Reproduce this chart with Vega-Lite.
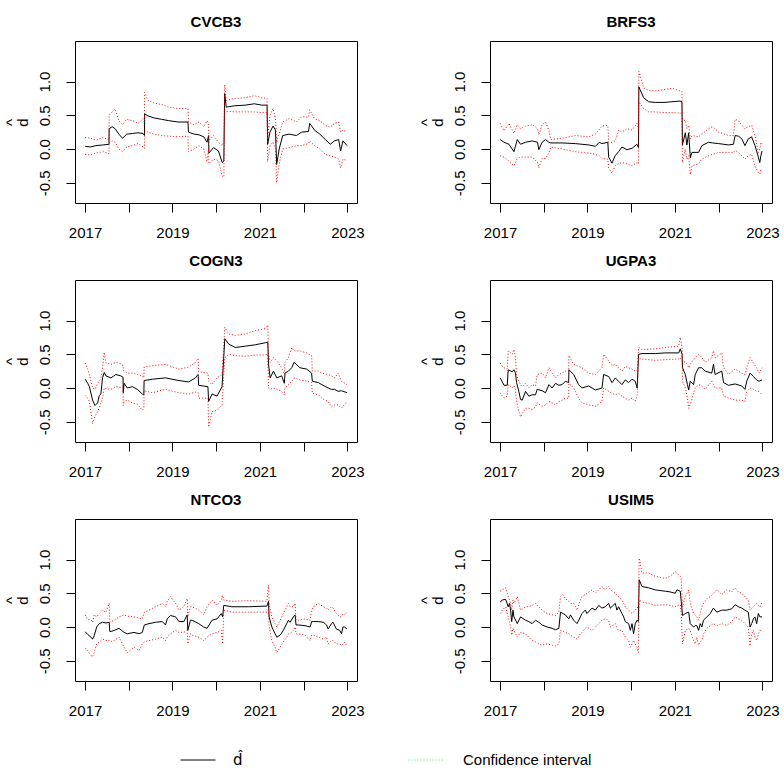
{
  "$schema": "https://vega.github.io/schema/vega-lite/v6.json",
  "padding": {"left": 3, "top": 14, "right": 0, "bottom": 0},
  "background": "white",
  "datasets": {
    "CVCB3": [
      {"t":"2017-01-02","d":0.04,"lo":-0.08,"hi":0.17},
      {"t":"2017-02-15","d":0.03,"lo":-0.09,"hi":0.16},
      {"t":"2017-04-01","d":0.05,"lo":-0.06,"hi":0.13},
      {"t":"2017-06-01","d":0.06,"lo":-0.04,"hi":0.17},
      {"t":"2017-07-20","d":0.07,"lo":-0.07,"hi":0.13},
      {"t":"2017-07-21","d":0.30,"lo":0.10,"hi":0.50},
      {"t":"2017-08-15","d":0.33,"lo":0.12,"hi":0.55},
      {"t":"2017-09-10","d":0.30,"lo":0.10,"hi":0.59},
      {"t":"2017-10-10","d":0.22,"lo":0.00,"hi":0.42},
      {"t":"2017-11-10","d":0.16,"lo":-0.04,"hi":0.36},
      {"t":"2017-12-15","d":0.22,"lo":0.03,"hi":0.44},
      {"t":"2018-02-01","d":0.23,"lo":0.05,"hi":0.42},
      {"t":"2018-03-20","d":0.24,"lo":0.08,"hi":0.38},
      {"t":"2018-05-01","d":0.23,"lo":0.03,"hi":0.45},
      {"t":"2018-05-12","d":0.20,"lo":0.01,"hi":0.40},
      {"t":"2018-05-14","d":0.52,"lo":0.28,"hi":0.84},
      {"t":"2018-06-10","d":0.49,"lo":0.25,"hi":0.72},
      {"t":"2018-08-01","d":0.46,"lo":0.22,"hi":0.68},
      {"t":"2018-10-01","d":0.44,"lo":0.20,"hi":0.66},
      {"t":"2018-12-01","d":0.42,"lo":0.19,"hi":0.62},
      {"t":"2019-02-15","d":0.40,"lo":0.18,"hi":0.60},
      {"t":"2019-05-10","d":0.40,"lo":0.19,"hi":0.60},
      {"t":"2019-05-15","d":0.25,"lo":-0.04,"hi":0.40},
      {"t":"2019-07-01","d":0.22,"lo":0.00,"hi":0.36},
      {"t":"2019-08-10","d":0.21,"lo":0.05,"hi":0.40},
      {"t":"2019-09-20","d":0.18,"lo":0.00,"hi":0.33},
      {"t":"2019-10-16","d":0.10,"lo":-0.19,"hi":0.42},
      {"t":"2019-10-30","d":0.20,"lo":0.02,"hi":0.35},
      {"t":"2019-11-01","d":-0.06,"lo":-0.22,"hi":0.12},
      {"t":"2019-12-10","d":0.02,"lo":-0.15,"hi":0.20},
      {"t":"2020-01-20","d":-0.03,"lo":-0.17,"hi":0.10},
      {"t":"2020-02-20","d":-0.20,"lo":-0.40,"hi":0.05},
      {"t":"2020-03-05","d":-0.18,"lo":-0.42,"hi":0.10},
      {"t":"2020-03-12","d":0.82,"lo":0.58,"hi":0.95},
      {"t":"2020-03-25","d":0.62,"lo":0.56,"hi":0.72},
      {"t":"2020-06-01","d":0.64,"lo":0.55,"hi":0.75},
      {"t":"2020-09-01","d":0.65,"lo":0.55,"hi":0.76},
      {"t":"2020-11-15","d":0.67,"lo":0.55,"hi":0.79},
      {"t":"2021-01-15","d":0.65,"lo":0.54,"hi":0.76},
      {"t":"2021-03-01","d":0.65,"lo":0.54,"hi":0.75},
      {"t":"2021-03-06","d":0.07,"lo":-0.19,"hi":0.16},
      {"t":"2021-03-25","d":0.25,"lo":0.05,"hi":0.50},
      {"t":"2021-04-20","d":0.34,"lo":0.10,"hi":0.60},
      {"t":"2021-05-10","d":0.28,"lo":0.00,"hi":0.45},
      {"t":"2021-05-20","d":-0.23,"lo":-0.50,"hi":0.10},
      {"t":"2021-06-10","d":0.00,"lo":-0.22,"hi":0.22},
      {"t":"2021-07-10","d":0.20,"lo":0.00,"hi":0.40},
      {"t":"2021-09-01","d":0.22,"lo":0.02,"hi":0.45},
      {"t":"2021-11-01","d":0.20,"lo":0.05,"hi":0.40},
      {"t":"2021-12-15","d":0.25,"lo":0.05,"hi":0.48},
      {"t":"2022-02-10","d":0.26,"lo":0.08,"hi":0.47},
      {"t":"2022-02-20","d":0.38,"lo":0.12,"hi":0.58},
      {"t":"2022-04-01","d":0.28,"lo":0.05,"hi":0.45},
      {"t":"2022-05-15","d":0.22,"lo":0.00,"hi":0.42},
      {"t":"2022-07-01","d":0.14,"lo":-0.08,"hi":0.35},
      {"t":"2022-08-10","d":0.07,"lo":-0.10,"hi":0.32},
      {"t":"2022-09-15","d":0.12,"lo":-0.12,"hi":0.38},
      {"t":"2022-10-20","d":0.14,"lo":-0.15,"hi":0.40},
      {"t":"2022-11-05","d":-0.03,"lo":-0.28,"hi":0.25},
      {"t":"2022-11-25","d":0.12,"lo":-0.15,"hi":0.28},
      {"t":"2022-12-29","d":0.05,"lo":-0.17,"hi":0.25}
    ],
    "BRFS3": [
      {"t":"2017-01-02","d":0.14,"lo":-0.10,"hi":0.38},
      {"t":"2017-02-03","d":0.10,"lo":-0.12,"hi":0.27},
      {"t":"2017-03-16","d":0.07,"lo":-0.18,"hi":0.38},
      {"t":"2017-04-27","d":-0.04,"lo":-0.25,"hi":0.23},
      {"t":"2017-05-25","d":0.14,"lo":-0.14,"hi":0.36},
      {"t":"2017-06-21","d":0.07,"lo":-0.12,"hi":0.30},
      {"t":"2017-08-02","d":0.10,"lo":-0.12,"hi":0.34},
      {"t":"2017-09-27","d":0.12,"lo":-0.12,"hi":0.36},
      {"t":"2017-11-10","d":0.10,"lo":-0.20,"hi":0.30},
      {"t":"2017-11-21","d":-0.01,"lo":-0.28,"hi":0.21},
      {"t":"2017-12-18","d":0.10,"lo":-0.14,"hi":0.36},
      {"t":"2018-01-16","d":0.14,"lo":-0.14,"hi":0.40},
      {"t":"2018-02-13","d":0.10,"lo":-0.06,"hi":0.27},
      {"t":"2018-03-01","d":0.09,"lo":0.03,"hi":0.14},
      {"t":"2018-06-03","d":0.09,"lo":0.00,"hi":0.16},
      {"t":"2018-09-22","d":0.08,"lo":-0.04,"hi":0.20},
      {"t":"2019-01-11","d":0.06,"lo":-0.06,"hi":0.18},
      {"t":"2019-03-08","d":0.04,"lo":-0.08,"hi":0.22},
      {"t":"2019-04-10","d":0.10,"lo":-0.10,"hi":0.29},
      {"t":"2019-05-02","d":0.08,"lo":-0.14,"hi":0.34},
      {"t":"2019-06-20","d":0.10,"lo":-0.15,"hi":0.35},
      {"t":"2019-06-27","d":-0.12,"lo":-0.28,"hi":0.10},
      {"t":"2019-07-25","d":-0.21,"lo":-0.36,"hi":0.10},
      {"t":"2019-08-20","d":-0.10,"lo":-0.25,"hi":0.12},
      {"t":"2019-09-18","d":-0.04,"lo":-0.22,"hi":0.28},
      {"t":"2019-10-16","d":0.03,"lo":-0.20,"hi":0.25},
      {"t":"2019-11-27","d":-0.01,"lo":-0.22,"hi":0.30},
      {"t":"2020-01-08","d":0.01,"lo":-0.25,"hi":0.28},
      {"t":"2020-02-18","d":0.07,"lo":-0.20,"hi":0.38},
      {"t":"2020-03-02","d":0.02,"lo":-0.22,"hi":0.30},
      {"t":"2020-03-05","d":0.92,"lo":0.70,"hi":1.15},
      {"t":"2020-04-14","d":0.76,"lo":0.60,"hi":0.90},
      {"t":"2020-05-26","d":0.70,"lo":0.55,"hi":0.87},
      {"t":"2020-07-20","d":0.69,"lo":0.55,"hi":0.86},
      {"t":"2020-10-01","d":0.69,"lo":0.54,"hi":0.88},
      {"t":"2020-12-06","d":0.70,"lo":0.54,"hi":0.90},
      {"t":"2021-02-13","d":0.71,"lo":0.53,"hi":0.86},
      {"t":"2021-02-28","d":0.70,"lo":0.53,"hi":0.85},
      {"t":"2021-03-04","d":0.06,"lo":-0.20,"hi":0.40},
      {"t":"2021-03-28","d":0.24,"lo":0.00,"hi":0.43},
      {"t":"2021-04-10","d":0.06,"lo":-0.15,"hi":0.30},
      {"t":"2021-04-25","d":0.24,"lo":-0.10,"hi":0.35},
      {"t":"2021-05-09","d":-0.13,"lo":-0.38,"hi":0.15},
      {"t":"2021-05-23","d":-0.05,"lo":-0.25,"hi":0.20},
      {"t":"2021-07-17","d":-0.05,"lo":-0.22,"hi":0.18},
      {"t":"2021-08-13","d":0.05,"lo":-0.15,"hi":0.22},
      {"t":"2021-10-08","d":0.10,"lo":-0.10,"hi":0.30},
      {"t":"2021-11-10","d":0.09,"lo":-0.08,"hi":0.33},
      {"t":"2022-01-01","d":0.08,"lo":-0.05,"hi":0.25},
      {"t":"2022-03-24","d":0.06,"lo":-0.05,"hi":0.20},
      {"t":"2022-05-04","d":0.07,"lo":-0.05,"hi":0.20},
      {"t":"2022-05-18","d":0.20,"lo":-0.02,"hi":0.44},
      {"t":"2022-06-15","d":0.19,"lo":-0.05,"hi":0.42},
      {"t":"2022-07-13","d":0.15,"lo":-0.10,"hi":0.35},
      {"t":"2022-08-08","d":0.05,"lo":-0.15,"hi":0.30},
      {"t":"2022-09-05","d":0.15,"lo":-0.10,"hi":0.33},
      {"t":"2022-10-03","d":0.18,"lo":-0.08,"hi":0.35},
      {"t":"2022-10-31","d":0.05,"lo":-0.25,"hi":0.20},
      {"t":"2022-11-28","d":-0.12,"lo":-0.35,"hi":-0.05},
      {"t":"2022-12-10","d":-0.20,"lo":-0.37,"hi":0.00},
      {"t":"2022-12-19","d":-0.10,"lo":-0.30,"hi":0.10},
      {"t":"2022-12-29","d":-0.03,"lo":-0.30,"hi":0.08}
    ],
    "COGN3": [
      {"t":"2017-01-02","d":0.13,"lo":-0.11,"hi":0.37},
      {"t":"2017-01-23","d":0.07,"lo":-0.15,"hi":0.28},
      {"t":"2017-02-06","d":0.02,"lo":-0.20,"hi":0.20},
      {"t":"2017-03-05","d":-0.18,"lo":-0.53,"hi":0.00},
      {"t":"2017-03-25","d":-0.26,"lo":-0.42,"hi":-0.02},
      {"t":"2017-04-16","d":-0.22,"lo":-0.35,"hi":0.07},
      {"t":"2017-04-30","d":-0.11,"lo":-0.29,"hi":0.10},
      {"t":"2017-05-13","d":-0.09,"lo":-0.22,"hi":0.15},
      {"t":"2017-05-27","d":0.15,"lo":-0.15,"hi":0.30},
      {"t":"2017-06-10","d":0.23,"lo":0.00,"hi":0.53},
      {"t":"2017-06-24","d":0.18,"lo":-0.01,"hi":0.37},
      {"t":"2017-08-05","d":0.15,"lo":-0.02,"hi":0.35},
      {"t":"2017-09-15","d":0.20,"lo":0.02,"hi":0.38},
      {"t":"2017-10-26","d":0.18,"lo":0.01,"hi":0.36},
      {"t":"2017-11-14","d":0.16,"lo":0.00,"hi":0.33},
      {"t":"2017-11-16","d":-0.07,"lo":-0.26,"hi":0.26},
      {"t":"2017-11-23","d":0.07,"lo":-0.20,"hi":0.25},
      {"t":"2017-12-20","d":0.00,"lo":-0.18,"hi":0.22},
      {"t":"2018-01-31","d":0.02,"lo":-0.22,"hi":0.22},
      {"t":"2018-03-14","d":-0.02,"lo":-0.24,"hi":0.20},
      {"t":"2018-04-24","d":-0.09,"lo":-0.33,"hi":0.18},
      {"t":"2018-05-07","d":-0.10,"lo":-0.30,"hi":0.15},
      {"t":"2018-05-09","d":0.11,"lo":-0.04,"hi":0.31},
      {"t":"2018-07-16","d":0.13,"lo":-0.07,"hi":0.33},
      {"t":"2018-11-03","d":0.15,"lo":-0.02,"hi":0.35},
      {"t":"2019-02-24","d":0.11,"lo":-0.07,"hi":0.28},
      {"t":"2019-05-17","d":0.09,"lo":-0.09,"hi":0.31},
      {"t":"2019-07-11","d":0.15,"lo":-0.06,"hi":0.38},
      {"t":"2019-08-03","d":0.20,"lo":-0.07,"hi":0.44},
      {"t":"2019-08-08","d":0.04,"lo":-0.15,"hi":0.24},
      {"t":"2019-10-24","d":0.02,"lo":-0.15,"hi":0.22},
      {"t":"2019-10-30","d":-0.20,"lo":-0.58,"hi":0.10},
      {"t":"2019-11-27","d":-0.09,"lo":-0.35,"hi":0.05},
      {"t":"2020-01-08","d":-0.12,"lo":-0.33,"hi":0.15},
      {"t":"2020-02-19","d":0.02,"lo":-0.25,"hi":0.20},
      {"t":"2020-03-13","d":0.73,"lo":0.45,"hi":0.90},
      {"t":"2020-04-15","d":0.65,"lo":0.50,"hi":0.80},
      {"t":"2020-06-09","d":0.60,"lo":0.48,"hi":0.78},
      {"t":"2020-08-31","d":0.62,"lo":0.47,"hi":0.80},
      {"t":"2020-11-22","d":0.64,"lo":0.49,"hi":0.85},
      {"t":"2021-02-14","d":0.67,"lo":0.49,"hi":0.88},
      {"t":"2021-03-07","d":0.68,"lo":0.50,"hi":0.93},
      {"t":"2021-03-13","d":0.35,"lo":0.00,"hi":0.50},
      {"t":"2021-03-27","d":0.15,"lo":-0.02,"hi":0.38},
      {"t":"2021-04-23","d":0.25,"lo":0.00,"hi":0.45},
      {"t":"2021-05-21","d":0.15,"lo":-0.02,"hi":0.40},
      {"t":"2021-07-01","d":0.18,"lo":-0.05,"hi":0.30},
      {"t":"2021-07-23","d":0.07,"lo":-0.10,"hi":0.20},
      {"t":"2021-07-29","d":0.22,"lo":0.00,"hi":0.38},
      {"t":"2021-08-26","d":0.25,"lo":0.05,"hi":0.45},
      {"t":"2021-09-23","d":0.30,"lo":0.10,"hi":0.60},
      {"t":"2021-10-12","d":0.38,"lo":0.15,"hi":0.55},
      {"t":"2021-12-01","d":0.30,"lo":0.12,"hi":0.55},
      {"t":"2022-01-26","d":0.28,"lo":0.10,"hi":0.52},
      {"t":"2022-03-08","d":0.22,"lo":0.08,"hi":0.48},
      {"t":"2022-03-14","d":0.10,"lo":-0.08,"hi":0.25},
      {"t":"2022-05-03","d":0.08,"lo":-0.10,"hi":0.25},
      {"t":"2022-06-01","d":0.05,"lo":-0.15,"hi":0.22},
      {"t":"2022-07-24","d":0.00,"lo":-0.20,"hi":0.20},
      {"t":"2022-08-20","d":-0.02,"lo":-0.28,"hi":0.18},
      {"t":"2022-09-17","d":-0.02,"lo":-0.25,"hi":0.15},
      {"t":"2022-10-15","d":-0.05,"lo":-0.25,"hi":0.22},
      {"t":"2022-11-12","d":-0.04,"lo":-0.30,"hi":0.10},
      {"t":"2022-12-29","d":-0.07,"lo":-0.20,"hi":0.05}
    ],
    "UGPA3": [
      {"t":"2017-01-02","d":0.15,"lo":-0.07,"hi":0.37},
      {"t":"2017-01-20","d":0.09,"lo":-0.12,"hi":0.32},
      {"t":"2017-02-03","d":0.04,"lo":-0.15,"hi":0.30},
      {"t":"2017-03-02","d":0.04,"lo":-0.12,"hi":0.28},
      {"t":"2017-03-10","d":0.27,"lo":0.05,"hi":0.55},
      {"t":"2017-04-13","d":0.24,"lo":0.00,"hi":0.50},
      {"t":"2017-04-27","d":0.27,"lo":0.03,"hi":0.57},
      {"t":"2017-05-10","d":0.22,"lo":-0.02,"hi":0.45},
      {"t":"2017-05-19","d":0.08,"lo":-0.20,"hi":0.20},
      {"t":"2017-06-07","d":-0.05,"lo":-0.35,"hi":0.10},
      {"t":"2017-06-21","d":-0.17,"lo":-0.43,"hi":0.05},
      {"t":"2017-07-05","d":-0.18,"lo":-0.38,"hi":0.02},
      {"t":"2017-08-02","d":-0.05,"lo":-0.30,"hi":0.07},
      {"t":"2017-08-29","d":-0.12,"lo":-0.30,"hi":0.00},
      {"t":"2017-09-26","d":-0.10,"lo":-0.32,"hi":0.05},
      {"t":"2017-10-24","d":-0.10,"lo":-0.28,"hi":0.03},
      {"t":"2017-11-07","d":-0.02,"lo":-0.22,"hi":0.20},
      {"t":"2017-12-18","d":-0.04,"lo":-0.27,"hi":0.22},
      {"t":"2018-01-16","d":-0.07,"lo":-0.25,"hi":0.15},
      {"t":"2018-02-13","d":0.05,"lo":-0.20,"hi":0.30},
      {"t":"2018-03-12","d":0.00,"lo":-0.22,"hi":0.22},
      {"t":"2018-04-09","d":0.07,"lo":-0.25,"hi":0.15},
      {"t":"2018-05-07","d":0.04,"lo":-0.20,"hi":0.20},
      {"t":"2018-06-03","d":0.05,"lo":-0.18,"hi":0.22},
      {"t":"2018-07-01","d":0.10,"lo":-0.15,"hi":0.25},
      {"t":"2018-07-28","d":0.08,"lo":-0.15,"hi":0.24},
      {"t":"2018-07-30","d":0.27,"lo":0.07,"hi":0.48},
      {"t":"2018-09-08","d":0.20,"lo":0.00,"hi":0.35},
      {"t":"2018-10-19","d":0.05,"lo":-0.15,"hi":0.32},
      {"t":"2018-11-16","d":0.00,"lo":-0.22,"hi":0.30},
      {"t":"2019-01-11","d":0.03,"lo":-0.25,"hi":0.22},
      {"t":"2019-03-08","d":-0.03,"lo":-0.27,"hi":0.20},
      {"t":"2019-05-02","d":0.00,"lo":-0.20,"hi":0.30},
      {"t":"2019-05-16","d":0.20,"lo":0.00,"hi":0.50},
      {"t":"2019-06-27","d":0.17,"lo":-0.05,"hi":0.40},
      {"t":"2019-07-25","d":0.08,"lo":-0.08,"hi":0.33},
      {"t":"2019-08-21","d":0.15,"lo":-0.10,"hi":0.35},
      {"t":"2019-09-18","d":0.10,"lo":-0.08,"hi":0.30},
      {"t":"2019-10-16","d":0.05,"lo":-0.12,"hi":0.25},
      {"t":"2019-11-13","d":0.12,"lo":-0.15,"hi":0.32},
      {"t":"2019-12-11","d":0.08,"lo":-0.18,"hi":0.30},
      {"t":"2020-01-08","d":0.13,"lo":-0.15,"hi":0.28},
      {"t":"2020-02-04","d":0.10,"lo":-0.20,"hi":0.25},
      {"t":"2020-02-20","d":0.00,"lo":-0.10,"hi":0.25},
      {"t":"2020-03-03","d":0.50,"lo":0.45,"hi":0.60},
      {"t":"2020-03-31","d":0.51,"lo":0.43,"hi":0.57},
      {"t":"2020-07-20","d":0.51,"lo":0.41,"hi":0.58},
      {"t":"2020-10-12","d":0.52,"lo":0.42,"hi":0.60},
      {"t":"2021-02-01","d":0.52,"lo":0.43,"hi":0.62},
      {"t":"2021-02-14","d":0.58,"lo":0.45,"hi":0.75},
      {"t":"2021-03-01","d":0.50,"lo":0.40,"hi":0.60},
      {"t":"2021-03-05","d":0.30,"lo":0.10,"hi":0.40},
      {"t":"2021-03-28","d":0.20,"lo":0.00,"hi":0.38},
      {"t":"2021-04-15","d":0.05,"lo":-0.15,"hi":0.35},
      {"t":"2021-04-25","d":-0.03,"lo":-0.30,"hi":0.30},
      {"t":"2021-05-08","d":0.10,"lo":-0.25,"hi":0.35},
      {"t":"2021-06-05","d":0.05,"lo":-0.08,"hi":0.42},
      {"t":"2021-06-19","d":0.20,"lo":0.00,"hi":0.45},
      {"t":"2021-07-17","d":0.30,"lo":0.05,"hi":0.50},
      {"t":"2021-08-13","d":0.30,"lo":0.03,"hi":0.45},
      {"t":"2021-09-10","d":0.25,"lo":-0.02,"hi":0.38},
      {"t":"2021-11-04","d":0.22,"lo":0.10,"hi":0.45},
      {"t":"2021-11-18","d":0.35,"lo":0.05,"hi":0.55},
      {"t":"2021-12-02","d":0.20,"lo":0.00,"hi":0.45},
      {"t":"2022-01-27","d":0.25,"lo":0.00,"hi":0.52},
      {"t":"2022-02-10","d":0.08,"lo":-0.12,"hi":0.30},
      {"t":"2022-03-24","d":0.04,"lo":-0.15,"hi":0.20},
      {"t":"2022-05-18","d":0.06,"lo":-0.18,"hi":0.28},
      {"t":"2022-07-12","d":0.03,"lo":-0.18,"hi":0.22},
      {"t":"2022-08-08","d":-0.02,"lo":-0.20,"hi":0.20},
      {"t":"2022-08-23","d":0.10,"lo":-0.05,"hi":0.30},
      {"t":"2022-09-20","d":0.22,"lo":0.00,"hi":0.45},
      {"t":"2022-10-18","d":0.17,"lo":-0.02,"hi":0.37},
      {"t":"2022-11-14","d":0.12,"lo":-0.05,"hi":0.30},
      {"t":"2022-12-03","d":0.10,"lo":-0.05,"hi":0.22},
      {"t":"2022-12-29","d":0.12,"lo":-0.10,"hi":0.30}
    ],
    "NTCO3": [
      {"t":"2017-01-02","d":-0.07,"lo":-0.31,"hi":0.18},
      {"t":"2017-01-23","d":-0.11,"lo":-0.35,"hi":0.11},
      {"t":"2017-02-19","d":-0.15,"lo":-0.42,"hi":0.11},
      {"t":"2017-03-05","d":-0.18,"lo":-0.44,"hi":0.07},
      {"t":"2017-03-18","d":-0.13,"lo":-0.38,"hi":0.18},
      {"t":"2017-04-08","d":0.00,"lo":-0.25,"hi":0.15},
      {"t":"2017-04-30","d":0.05,"lo":-0.22,"hi":0.20},
      {"t":"2017-05-27","d":0.07,"lo":-0.18,"hi":0.25},
      {"t":"2017-06-24","d":0.06,"lo":-0.20,"hi":0.22},
      {"t":"2017-07-21","d":0.07,"lo":-0.20,"hi":0.35},
      {"t":"2017-07-27","d":-0.07,"lo":-0.22,"hi":0.07},
      {"t":"2017-09-01","d":-0.05,"lo":-0.20,"hi":0.10},
      {"t":"2017-10-12","d":-0.02,"lo":-0.15,"hi":0.15},
      {"t":"2017-11-23","d":-0.08,"lo":-0.30,"hi":0.18},
      {"t":"2017-12-20","d":-0.10,"lo":-0.38,"hi":0.16},
      {"t":"2018-02-14","d":-0.08,"lo":-0.30,"hi":0.15},
      {"t":"2018-03-28","d":-0.10,"lo":-0.35,"hi":0.13},
      {"t":"2018-04-24","d":-0.08,"lo":-0.25,"hi":0.12},
      {"t":"2018-05-11","d":0.03,"lo":-0.22,"hi":0.22},
      {"t":"2018-06-19","d":0.05,"lo":-0.20,"hi":0.25},
      {"t":"2018-08-13","d":0.07,"lo":-0.18,"hi":0.30},
      {"t":"2018-10-08","d":0.08,"lo":-0.15,"hi":0.35},
      {"t":"2018-11-04","d":0.03,"lo":-0.20,"hi":0.30},
      {"t":"2018-11-18","d":0.12,"lo":-0.15,"hi":0.38},
      {"t":"2018-12-16","d":0.17,"lo":-0.10,"hi":0.45},
      {"t":"2019-01-27","d":0.15,"lo":-0.05,"hi":0.35},
      {"t":"2019-02-24","d":0.08,"lo":-0.08,"hi":0.25},
      {"t":"2019-04-06","d":0.08,"lo":-0.08,"hi":0.30},
      {"t":"2019-05-04","d":0.18,"lo":-0.05,"hi":0.42},
      {"t":"2019-05-09","d":-0.05,"lo":-0.25,"hi":0.15},
      {"t":"2019-05-31","d":0.10,"lo":-0.10,"hi":0.30},
      {"t":"2019-06-14","d":0.10,"lo":-0.12,"hi":0.30},
      {"t":"2019-08-08","d":0.05,"lo":-0.15,"hi":0.25},
      {"t":"2019-09-19","d":0.00,"lo":-0.20,"hi":0.18},
      {"t":"2019-10-17","d":-0.02,"lo":-0.15,"hi":0.30},
      {"t":"2019-11-27","d":0.10,"lo":-0.10,"hi":0.40},
      {"t":"2020-01-08","d":0.12,"lo":-0.08,"hi":0.32},
      {"t":"2020-02-13","d":0.20,"lo":-0.05,"hi":0.40},
      {"t":"2020-02-24","d":0.15,"lo":-0.25,"hi":0.47},
      {"t":"2020-03-04","d":0.32,"lo":0.25,"hi":0.40},
      {"t":"2020-05-11","d":0.30,"lo":0.22,"hi":0.38},
      {"t":"2020-09-27","d":0.30,"lo":0.22,"hi":0.39},
      {"t":"2021-02-27","d":0.31,"lo":0.22,"hi":0.38},
      {"t":"2021-03-13","d":0.38,"lo":0.25,"hi":0.62},
      {"t":"2021-03-18","d":0.15,"lo":0.00,"hi":0.35},
      {"t":"2021-04-10","d":0.00,"lo":-0.20,"hi":0.15},
      {"t":"2021-05-07","d":-0.10,"lo":-0.30,"hi":0.05},
      {"t":"2021-05-21","d":-0.15,"lo":-0.38,"hi":0.00},
      {"t":"2021-06-18","d":-0.12,"lo":-0.30,"hi":0.10},
      {"t":"2021-07-15","d":-0.05,"lo":-0.22,"hi":0.20},
      {"t":"2021-08-12","d":0.05,"lo":-0.15,"hi":0.30},
      {"t":"2021-08-26","d":0.10,"lo":-0.10,"hi":0.35},
      {"t":"2021-09-09","d":0.07,"lo":-0.10,"hi":0.30},
      {"t":"2021-10-07","d":0.15,"lo":-0.05,"hi":0.30},
      {"t":"2021-10-21","d":0.18,"lo":0.00,"hi":0.35},
      {"t":"2021-10-29","d":0.03,"lo":-0.10,"hi":0.10},
      {"t":"2021-11-17","d":0.03,"lo":-0.10,"hi":0.10},
      {"t":"2022-01-12","d":0.02,"lo":-0.12,"hi":0.12},
      {"t":"2022-02-23","d":0.00,"lo":-0.20,"hi":0.10},
      {"t":"2022-03-08","d":0.08,"lo":-0.12,"hi":0.25},
      {"t":"2022-03-22","d":0.08,"lo":-0.12,"hi":0.30},
      {"t":"2022-05-03","d":0.08,"lo":-0.15,"hi":0.35},
      {"t":"2022-06-14","d":0.07,"lo":-0.18,"hi":0.30},
      {"t":"2022-07-11","d":0.03,"lo":-0.15,"hi":0.28},
      {"t":"2022-07-24","d":-0.03,"lo":-0.25,"hi":0.25},
      {"t":"2022-08-21","d":0.05,"lo":-0.20,"hi":0.30},
      {"t":"2022-09-03","d":0.07,"lo":-0.20,"hi":0.28},
      {"t":"2022-10-01","d":-0.03,"lo":-0.25,"hi":0.20},
      {"t":"2022-10-29","d":-0.05,"lo":-0.25,"hi":0.15},
      {"t":"2022-11-12","d":-0.10,"lo":-0.28,"hi":0.15},
      {"t":"2022-11-25","d":0.00,"lo":-0.25,"hi":0.20},
      {"t":"2022-12-08","d":0.00,"lo":-0.23,"hi":0.18},
      {"t":"2022-12-29","d":-0.03,"lo":-0.28,"hi":0.22}
    ],
    "USIM5": [
      {"t":"2017-01-02","d":0.37,"lo":0.20,"hi":0.53},
      {"t":"2017-01-20","d":0.40,"lo":0.25,"hi":0.55},
      {"t":"2017-02-17","d":0.41,"lo":0.30,"hi":0.58},
      {"t":"2017-03-10","d":0.30,"lo":0.15,"hi":0.45},
      {"t":"2017-03-21","d":0.35,"lo":0.08,"hi":0.40},
      {"t":"2017-03-30","d":0.25,"lo":0.00,"hi":0.35},
      {"t":"2017-04-08","d":0.08,"lo":-0.12,"hi":0.25},
      {"t":"2017-04-19","d":0.25,"lo":-0.02,"hi":0.40},
      {"t":"2017-04-27","d":0.15,"lo":-0.05,"hi":0.35},
      {"t":"2017-05-25","d":0.05,"lo":-0.15,"hi":0.45},
      {"t":"2017-06-21","d":0.15,"lo":-0.08,"hi":0.25},
      {"t":"2017-08-02","d":0.10,"lo":-0.10,"hi":0.30},
      {"t":"2017-08-29","d":0.08,"lo":-0.15,"hi":0.30},
      {"t":"2017-09-26","d":0.05,"lo":-0.20,"hi":0.32},
      {"t":"2017-10-24","d":0.10,"lo":-0.22,"hi":0.35},
      {"t":"2017-11-21","d":0.07,"lo":-0.25,"hi":0.30},
      {"t":"2017-12-18","d":0.03,"lo":-0.27,"hi":0.25},
      {"t":"2018-01-29","d":0.00,"lo":-0.25,"hi":0.20},
      {"t":"2018-03-12","d":-0.02,"lo":-0.27,"hi":0.18},
      {"t":"2018-04-09","d":-0.04,"lo":-0.28,"hi":0.17},
      {"t":"2018-05-07","d":-0.02,"lo":-0.25,"hi":0.22},
      {"t":"2018-05-21","d":0.22,"lo":-0.05,"hi":0.45},
      {"t":"2018-06-10","d":0.20,"lo":-0.06,"hi":0.48},
      {"t":"2018-07-01","d":0.18,"lo":-0.08,"hi":0.42},
      {"t":"2018-07-29","d":0.12,"lo":-0.10,"hi":0.38},
      {"t":"2018-08-12","d":0.18,"lo":-0.12,"hi":0.35},
      {"t":"2018-09-08","d":0.10,"lo":-0.15,"hi":0.35},
      {"t":"2018-10-06","d":0.05,"lo":-0.18,"hi":0.25},
      {"t":"2018-11-03","d":0.15,"lo":-0.10,"hi":0.40},
      {"t":"2018-11-16","d":0.20,"lo":-0.08,"hi":0.45},
      {"t":"2018-12-14","d":0.25,"lo":-0.02,"hi":0.48},
      {"t":"2018-12-28","d":0.20,"lo":0.00,"hi":0.50},
      {"t":"2019-02-08","d":0.28,"lo":-0.05,"hi":0.55},
      {"t":"2019-03-08","d":0.25,"lo":0.00,"hi":0.50},
      {"t":"2019-04-05","d":0.32,"lo":0.05,"hi":0.55},
      {"t":"2019-05-02","d":0.28,"lo":0.10,"hi":0.60},
      {"t":"2019-05-30","d":0.30,"lo":0.12,"hi":0.55},
      {"t":"2019-06-27","d":0.35,"lo":0.10,"hi":0.60},
      {"t":"2019-07-11","d":0.28,"lo":0.00,"hi":0.55},
      {"t":"2019-08-21","d":0.35,"lo":0.05,"hi":0.50},
      {"t":"2019-09-04","d":0.25,"lo":-0.02,"hi":0.47},
      {"t":"2019-09-18","d":0.30,"lo":-0.05,"hi":0.45},
      {"t":"2019-10-16","d":0.20,"lo":-0.05,"hi":0.40},
      {"t":"2019-10-30","d":0.15,"lo":-0.10,"hi":0.35},
      {"t":"2019-11-13","d":0.08,"lo":-0.15,"hi":0.30},
      {"t":"2019-12-11","d":0.05,"lo":-0.20,"hi":0.25},
      {"t":"2019-12-25","d":-0.05,"lo":-0.30,"hi":0.22},
      {"t":"2020-01-08","d":0.05,"lo":-0.25,"hi":0.20},
      {"t":"2020-01-21","d":-0.10,"lo":-0.20,"hi":0.22},
      {"t":"2020-02-04","d":0.05,"lo":-0.25,"hi":0.25},
      {"t":"2020-02-18","d":0.10,"lo":-0.30,"hi":0.28},
      {"t":"2020-03-01","d":0.08,"lo":-0.38,"hi":0.30},
      {"t":"2020-03-08","d":0.70,"lo":0.40,"hi":1.02},
      {"t":"2020-03-31","d":0.60,"lo":0.37,"hi":0.80},
      {"t":"2020-05-26","d":0.58,"lo":0.35,"hi":0.80},
      {"t":"2020-07-20","d":0.55,"lo":0.32,"hi":0.75},
      {"t":"2020-10-12","d":0.53,"lo":0.33,"hi":0.72},
      {"t":"2020-11-20","d":0.52,"lo":0.32,"hi":0.75},
      {"t":"2021-01-03","d":0.50,"lo":0.30,"hi":0.82},
      {"t":"2021-01-17","d":0.55,"lo":0.32,"hi":0.80},
      {"t":"2021-02-14","d":0.53,"lo":0.33,"hi":0.75},
      {"t":"2021-02-22","d":0.38,"lo":0.20,"hi":0.70},
      {"t":"2021-03-05","d":0.17,"lo":-0.25,"hi":0.30},
      {"t":"2021-03-28","d":0.20,"lo":-0.05,"hi":0.45},
      {"t":"2021-04-25","d":0.22,"lo":-0.02,"hi":0.55},
      {"t":"2021-05-08","d":0.05,"lo":-0.05,"hi":0.35},
      {"t":"2021-06-05","d":0.00,"lo":-0.20,"hi":0.20},
      {"t":"2021-06-19","d":0.02,"lo":-0.25,"hi":0.18},
      {"t":"2021-07-02","d":0.02,"lo":-0.15,"hi":0.15},
      {"t":"2021-07-17","d":-0.05,"lo":-0.27,"hi":0.10},
      {"t":"2021-07-31","d":0.05,"lo":-0.22,"hi":0.20},
      {"t":"2021-08-13","d":0.00,"lo":-0.20,"hi":0.30},
      {"t":"2021-08-27","d":0.10,"lo":-0.10,"hi":0.35},
      {"t":"2021-09-24","d":0.15,"lo":-0.02,"hi":0.42},
      {"t":"2021-10-22","d":0.20,"lo":0.02,"hi":0.45},
      {"t":"2021-11-18","d":0.28,"lo":0.05,"hi":0.50},
      {"t":"2021-12-16","d":0.22,"lo":0.02,"hi":0.55},
      {"t":"2022-01-27","d":0.25,"lo":0.05,"hi":0.48},
      {"t":"2022-03-09","d":0.25,"lo":0.02,"hi":0.55},
      {"t":"2022-04-20","d":0.27,"lo":0.08,"hi":0.52},
      {"t":"2022-05-18","d":0.33,"lo":0.15,"hi":0.58},
      {"t":"2022-06-14","d":0.30,"lo":0.12,"hi":0.52},
      {"t":"2022-07-12","d":0.28,"lo":0.10,"hi":0.50},
      {"t":"2022-08-08","d":0.25,"lo":0.05,"hi":0.45},
      {"t":"2022-09-05","d":0.22,"lo":0.00,"hi":0.40},
      {"t":"2022-09-20","d":0.00,"lo":-0.28,"hi":0.25},
      {"t":"2022-10-03","d":0.05,"lo":-0.10,"hi":0.28},
      {"t":"2022-10-18","d":0.12,"lo":-0.05,"hi":0.30},
      {"t":"2022-10-31","d":0.15,"lo":-0.15,"hi":0.33},
      {"t":"2022-11-14","d":0.05,"lo":-0.20,"hi":0.35},
      {"t":"2022-11-28","d":0.20,"lo":-0.10,"hi":0.32},
      {"t":"2022-12-11","d":0.15,"lo":-0.05,"hi":0.30},
      {"t":"2022-12-29","d":0.15,"lo":-0.05,"hi":0.37}
    ]
  },
  "columns": 2,
  "bounds": "flush",
  "spacing": {"row": 77, "column": 133},
  "concat": [
      {"title": "CVCB3", "data": {"name": "CVCB3"}, "width": 282, "height": 162,
       "encoding": {"x": {"field": "t", "type": "temporal", "title": null,
         "scale": {"type": "utc", "domain": [{"year": 2016, "month": 10, "date": 9, "utc": true}, {"year": 2023, "month": 3, "date": 22, "utc": true}]},
         "axis": {"values": [{"year": 2017, "utc": true}, {"year": 2018, "utc": true}, {"year": 2019, "utc": true}, {"year": 2020, "utc": true}, {"year": 2021, "utc": true}, {"year": 2022, "utc": true}, {"year": 2023, "utc": true}], "labelExpr": "utcyear(datum.value) % 2 == 1 ? utcFormat(datum.value, '%Y') : ''"}}},
       "layer": [
         {"mark": {"type": "line", "color": "black", "strokeWidth": 1}, "encoding": {"y": {"field": "d", "type": "quantitative", "title": ["^", "d"], "scale": {"domain": [-0.67, 1.48]}, "axis": {"values": [-0.5, 0, 0.5, 1], "labelExpr": "replace(format(datum.value, '.1f'), '−', '-')"}}}},
         {"mark": {"type": "line", "color": "red", "strokeWidth": 1, "strokeDash": [1, 2]}, "encoding": {"y": {"field": "hi", "type": "quantitative", "title": ["^", "d"]}}},
         {"mark": {"type": "line", "color": "red", "strokeWidth": 1, "strokeDash": [1, 2]}, "encoding": {"y": {"field": "lo", "type": "quantitative", "title": ["^", "d"]}}}
       ]},
      {"title": "BRFS3", "data": {"name": "BRFS3"}, "width": 282, "height": 162,
       "encoding": {"x": {"field": "t", "type": "temporal", "title": null,
         "scale": {"type": "utc", "domain": [{"year": 2016, "month": 10, "date": 9, "utc": true}, {"year": 2023, "month": 3, "date": 22, "utc": true}]},
         "axis": {"values": [{"year": 2017, "utc": true}, {"year": 2018, "utc": true}, {"year": 2019, "utc": true}, {"year": 2020, "utc": true}, {"year": 2021, "utc": true}, {"year": 2022, "utc": true}, {"year": 2023, "utc": true}], "labelExpr": "utcyear(datum.value) % 2 == 1 ? utcFormat(datum.value, '%Y') : ''"}}},
       "layer": [
         {"mark": {"type": "line", "color": "black", "strokeWidth": 1}, "encoding": {"y": {"field": "d", "type": "quantitative", "title": ["^", "d"], "scale": {"domain": [-0.67, 1.48]}, "axis": {"values": [-0.5, 0, 0.5, 1], "labelExpr": "replace(format(datum.value, '.1f'), '−', '-')"}}}},
         {"mark": {"type": "line", "color": "red", "strokeWidth": 1, "strokeDash": [1, 2]}, "encoding": {"y": {"field": "hi", "type": "quantitative", "title": ["^", "d"]}}},
         {"mark": {"type": "line", "color": "red", "strokeWidth": 1, "strokeDash": [1, 2]}, "encoding": {"y": {"field": "lo", "type": "quantitative", "title": ["^", "d"]}}}
       ]},
      {"title": "COGN3", "data": {"name": "COGN3"}, "width": 282, "height": 162,
       "encoding": {"x": {"field": "t", "type": "temporal", "title": null,
         "scale": {"type": "utc", "domain": [{"year": 2016, "month": 10, "date": 9, "utc": true}, {"year": 2023, "month": 3, "date": 22, "utc": true}]},
         "axis": {"values": [{"year": 2017, "utc": true}, {"year": 2018, "utc": true}, {"year": 2019, "utc": true}, {"year": 2020, "utc": true}, {"year": 2021, "utc": true}, {"year": 2022, "utc": true}, {"year": 2023, "utc": true}], "labelExpr": "utcyear(datum.value) % 2 == 1 ? utcFormat(datum.value, '%Y') : ''"}}},
       "layer": [
         {"mark": {"type": "line", "color": "black", "strokeWidth": 1}, "encoding": {"y": {"field": "d", "type": "quantitative", "title": ["^", "d"], "scale": {"domain": [-0.67, 1.48]}, "axis": {"values": [-0.5, 0, 0.5, 1], "labelExpr": "replace(format(datum.value, '.1f'), '−', '-')"}}}},
         {"mark": {"type": "line", "color": "red", "strokeWidth": 1, "strokeDash": [1, 2]}, "encoding": {"y": {"field": "hi", "type": "quantitative", "title": ["^", "d"]}}},
         {"mark": {"type": "line", "color": "red", "strokeWidth": 1, "strokeDash": [1, 2]}, "encoding": {"y": {"field": "lo", "type": "quantitative", "title": ["^", "d"]}}}
       ]},
      {"title": "UGPA3", "data": {"name": "UGPA3"}, "width": 282, "height": 162,
       "encoding": {"x": {"field": "t", "type": "temporal", "title": null,
         "scale": {"type": "utc", "domain": [{"year": 2016, "month": 10, "date": 9, "utc": true}, {"year": 2023, "month": 3, "date": 22, "utc": true}]},
         "axis": {"values": [{"year": 2017, "utc": true}, {"year": 2018, "utc": true}, {"year": 2019, "utc": true}, {"year": 2020, "utc": true}, {"year": 2021, "utc": true}, {"year": 2022, "utc": true}, {"year": 2023, "utc": true}], "labelExpr": "utcyear(datum.value) % 2 == 1 ? utcFormat(datum.value, '%Y') : ''"}}},
       "layer": [
         {"mark": {"type": "line", "color": "black", "strokeWidth": 1}, "encoding": {"y": {"field": "d", "type": "quantitative", "title": ["^", "d"], "scale": {"domain": [-0.67, 1.48]}, "axis": {"values": [-0.5, 0, 0.5, 1], "labelExpr": "replace(format(datum.value, '.1f'), '−', '-')"}}}},
         {"mark": {"type": "line", "color": "red", "strokeWidth": 1, "strokeDash": [1, 2]}, "encoding": {"y": {"field": "hi", "type": "quantitative", "title": ["^", "d"]}}},
         {"mark": {"type": "line", "color": "red", "strokeWidth": 1, "strokeDash": [1, 2]}, "encoding": {"y": {"field": "lo", "type": "quantitative", "title": ["^", "d"]}}}
       ]},
      {"title": "NTCO3", "data": {"name": "NTCO3"}, "width": 282, "height": 162,
       "encoding": {"x": {"field": "t", "type": "temporal", "title": null,
         "scale": {"type": "utc", "domain": [{"year": 2016, "month": 10, "date": 9, "utc": true}, {"year": 2023, "month": 3, "date": 22, "utc": true}]},
         "axis": {"values": [{"year": 2017, "utc": true}, {"year": 2018, "utc": true}, {"year": 2019, "utc": true}, {"year": 2020, "utc": true}, {"year": 2021, "utc": true}, {"year": 2022, "utc": true}, {"year": 2023, "utc": true}], "labelExpr": "utcyear(datum.value) % 2 == 1 ? utcFormat(datum.value, '%Y') : ''"}}},
       "layer": [
         {"mark": {"type": "line", "color": "black", "strokeWidth": 1}, "encoding": {"y": {"field": "d", "type": "quantitative", "title": ["^", "d"], "scale": {"domain": [-0.67, 1.48]}, "axis": {"values": [-0.5, 0, 0.5, 1], "labelExpr": "replace(format(datum.value, '.1f'), '−', '-')"}}}},
         {"mark": {"type": "line", "color": "red", "strokeWidth": 1, "strokeDash": [1, 2]}, "encoding": {"y": {"field": "hi", "type": "quantitative", "title": ["^", "d"]}}},
         {"mark": {"type": "line", "color": "red", "strokeWidth": 1, "strokeDash": [1, 2]}, "encoding": {"y": {"field": "lo", "type": "quantitative", "title": ["^", "d"]}}}
       ]},
      {"title": "USIM5", "data": {"name": "USIM5"}, "width": 282, "height": 162,
       "encoding": {"x": {"field": "t", "type": "temporal", "title": null,
         "scale": {"type": "utc", "domain": [{"year": 2016, "month": 10, "date": 9, "utc": true}, {"year": 2023, "month": 3, "date": 22, "utc": true}]},
         "axis": {"values": [{"year": 2017, "utc": true}, {"year": 2018, "utc": true}, {"year": 2019, "utc": true}, {"year": 2020, "utc": true}, {"year": 2021, "utc": true}, {"year": 2022, "utc": true}, {"year": 2023, "utc": true}], "labelExpr": "utcyear(datum.value) % 2 == 1 ? utcFormat(datum.value, '%Y') : ''"}}},
       "layer": [
         {"mark": {"type": "line", "color": "black", "strokeWidth": 1}, "encoding": {"y": {"field": "d", "type": "quantitative", "title": ["^", "d"], "scale": {"domain": [-0.67, 1.48]}, "axis": {"values": [-0.5, 0, 0.5, 1], "labelExpr": "replace(format(datum.value, '.1f'), '−', '-')"}}}},
         {"mark": {"type": "line", "color": "red", "strokeWidth": 1, "strokeDash": [1, 2]}, "encoding": {"y": {"field": "hi", "type": "quantitative", "title": ["^", "d"]}}},
         {"mark": {"type": "line", "color": "red", "strokeWidth": 1, "strokeDash": [1, 2]}, "encoding": {"y": {"field": "lo", "type": "quantitative", "title": ["^", "d"]}}}
       ]},
    {"width": 282, "height": 1, "view": {"stroke": null},
     "data": {"values": [{"k1": "d̂", "k2": "Confidence interval"}]},
     "mark": {"type": "line"},
     "encoding": {
       "color": {"field": "k1", "type": "nominal", "scale": {"domain": ["d̂"], "range": ["black"]},
         "legend": {"orient": "none", "legendX": 105, "legendY": 701, "title": null, "symbolType": "stroke", "symbolSize": 1225, "symbolStrokeWidth": 1, "labelOffset": 17, "labelFontSize": 15, "labelColor": "black", "labelFont": "DejaVu Sans", "padding": 0}},
       "strokeDash": {"field": "k2", "type": "nominal", "scale": {"domain": ["Confidence interval"], "range": [[1, 2]]},
         "legend": {"orient": "none", "legendX": 333, "legendY": 701, "title": null, "symbolType": "stroke", "symbolSize": 1225, "symbolStrokeWidth": 1, "symbolStrokeColor": "#5ccc5c", "labelOffset": 19, "labelFontSize": 15, "labelColor": "black", "labelFont": "Liberation Sans", "padding": 0}}
     }}
  ],
  "config": {
    "font": "Liberation Sans",
    "view": {"stroke": "black", "strokeWidth": 1},
    "axis": {"domain": false, "grid": false, "ticks": true, "tickColor": "black", "tickSize": 9, "tickWidth": 1, "labelColor": "black", "labelFont": "Liberation Sans", "labelFontSize": 15, "titleFont": "Liberation Sans", "titleFontSize": 15, "titleFontWeight": "normal", "titleColor": "black", "labelOverlap": false, "labelFlush": false, "labelBound": false},
    "axisX": {"labelPadding": 13},
    "axisY": {"labelAngle": -90, "labelPadding": 14, "titlePadding": 7, "titleLineHeight": 11},
    "title": {"fontSize": 15, "fontWeight": "bold", "font": "Liberation Sans", "color": "black", "offset": 11, "baseline": "alphabetic", "anchor": "middle"},
    "line": {"interpolate": "linear"}
  }
}
